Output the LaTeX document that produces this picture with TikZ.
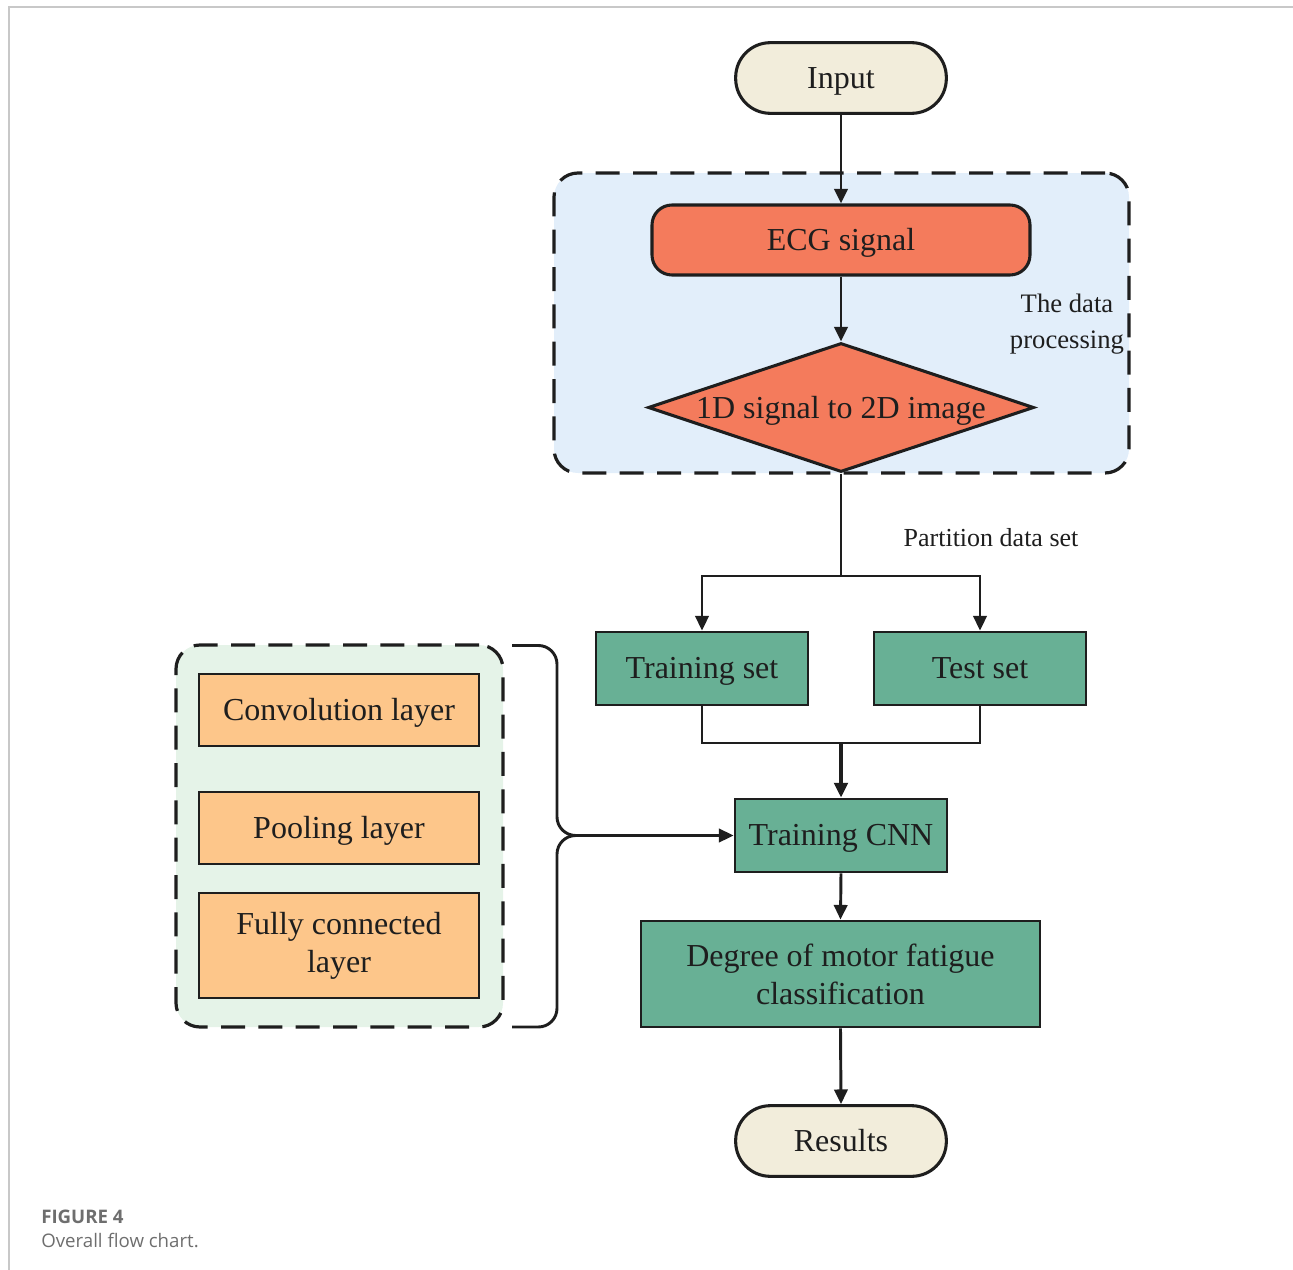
\documentclass[tikz,border=0pt]{standalone}
\usepackage{fontspec}
\setmainfont{Liberation Serif}
\newfontfamily\capfont{Open Sans}
\usetikzlibrary{arrows.meta,shapes.geometric,positioning}
\definecolor{beige}{HTML}{F2EDDB}
\definecolor{coral}{HTML}{F47B5C}
\definecolor{lblue}{HTML}{E2EEFA}
\definecolor{teal}{HTML}{68B095}
\definecolor{lgreen}{HTML}{E5F3E8}
\definecolor{peach}{HTML}{FDC68A}
\definecolor{ink}{HTML}{1E1E1E}
\definecolor{framegray}{HTML}{C8C8C8}
\definecolor{capgray}{HTML}{6E6E6E}
\newcommand{\lowtxt}[1]{\raisebox{-2.5pt}[\height][\depth]{\vphantom{Tgy}#1}}
\tikzset{
  base/.style={draw=ink, line width=2.3pt, text=ink, font=\fontsize{24}{28.5}\selectfont, align=center, inner sep=0pt},
  terminal/.style={base, fill=beige, rounded corners=26pt, minimum width=158pt, minimum height=53pt},
  procbox/.style={base, fill=coral, rounded corners=15pt},
  greenbox/.style={base, fill=teal, line width=2.1pt},
  layerbox/.style={base, fill=peach, line width=2.1pt, minimum width=210pt},
  group/.style={draw=ink, line width=2.4pt, dash pattern=on 18pt off 10pt, rounded corners=18pt, inner sep=0pt},
  conn/.style={draw=ink, line width=2.2pt},
  arr/.style={conn, -{Triangle[length=11pt,width=10pt]}},
  note/.style={text=ink, font=\fontsize{20}{27}\selectfont, align=center, inner sep=0pt},
}
\begin{document}
\begin{tikzpicture}[x=0.75pt,y=-0.75pt]
\useasboundingbox (0,0) rectangle (1293,1270);
% frame
\coordinate (f1) at (9,1270);
\coordinate (f2) at (9,7);
\coordinate (f3) at (1293,7);
\draw[framegray, line width=1.5pt] (f1) -- (f2) -- (f3);
% group backgrounds
\node[group, fill=lblue, minimum width=431.25pt, minimum height=225pt] (proc) at (841.5,323) {};
\node[group, fill=lgreen, minimum width=245.25pt, minimum height=286.5pt] (cnnparts) at (339.5,836) {};
% nodes
\node[terminal] (input) at (841,78) {\lowtxt{Input}};
\node[procbox, minimum width=283.5pt, minimum height=52.5pt] (ecg) at (841,240) {\lowtxt{ECG signal}};
\node[base, fill=coral, diamond, minimum width=289.5pt, minimum height=96.75pt] (conv2d) at (841,407.5) {\makebox[0pt]{\lowtxt{1D signal to 2D image}}};
\node[note] (dp) at (1067,324) {The data\\processing};
\node[note, font=\fontsize{19.5}{24}\selectfont] (part) at (991,538) {Partition data set};
\node[greenbox, minimum width=159pt, minimum height=54.75pt] (train) at (702,668.5) {\lowtxt{Training set}};
\node[greenbox, minimum width=159pt, minimum height=54.75pt] (test) at (980,668.5) {\lowtxt{Test set}};
\node[greenbox, minimum width=159pt, minimum height=54.75pt] (cnn) at (841,835.5) {\lowtxt{Training CNN}};
\node[greenbox, minimum width=299.25pt, minimum height=79.5pt] (deg) at (840.5,974) {Degree of motor fatigue\\classification};
\node[terminal] (res) at (841,1141) {\lowtxt{Results}};
\node[layerbox, minimum height=54pt] (convl) at (339,710) {\lowtxt{Convolution layer}};
\node[layerbox, minimum height=54pt] (pool) at (339,828) {\lowtxt{Pooling layer}};
\node[layerbox, minimum height=78.75pt] (fc) at (339,945.5) {Fully connected\\layer};
% connectors
\draw[arr] (input.south) -- (ecg.north);
\draw[arr] (ecg.south) -- (conv2d.north);
\coordinate (split) at (841,576);
\coordinate (join) at (841,743);
\draw[conn] (conv2d.south) -- (split);
\draw[arr] (split) -| (train.north);
\draw[arr] (split) -| (test.north);
\draw[conn] (train.south) |- (join) -| (test.south);
\draw[arr, line width=3pt] (join) -- (cnn.north);
\draw[arr] (cnn.south) -- (deg.north);
\draw[arr] (deg.south) -- (res.north);
% bracket
\coordinate (btop) at (512,645.5);
\coordinate (bbot) at (512,1027);
\coordinate (bx1) at (557,645.5);
\coordinate (bx2) at (557,835.5);
\coordinate (bx3) at (557,1027);
\coordinate (tip) at (575,835.5);
\draw[conn, rounded corners=14pt] (btop) -- (bx1) -- (bx2) -- (tip);
\draw[conn, rounded corners=14pt] (bbot) -- (bx3) -- (bx2) -- (tip);
\draw[arr] (tip) -- (cnn.west);
% caption
\node[anchor=base west, inner sep=0pt, text=capgray, font=\capfont\bfseries\fontsize{14}{16}\selectfont] (figno) at (41,1223) {FIGURE 4};
\node[anchor=base west, inner sep=0pt, text=capgray, font=\capfont\fontsize{14}{16}\selectfont] (figcap) at (41,1247) {Overall flow chart.};
\end{tikzpicture}
\end{document}
